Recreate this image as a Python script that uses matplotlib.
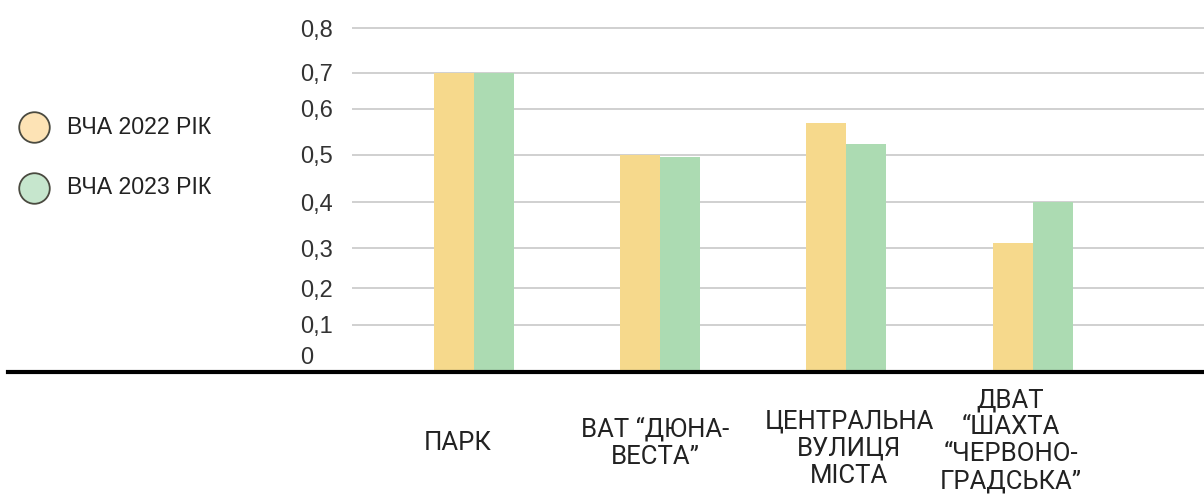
import numpy as np
import matplotlib
matplotlib.use("Agg")
import matplotlib.pyplot as plt
import matplotlib.transforms as mtransforms
from matplotlib.lines import Line2D

# Дані
categories = [
    "ПАРК",
    "ВАТ “ДЮНА-\nВЕСТА”",
    "ЦЕНТРАЛЬНА\nВУЛИЦЯ\nМІСТА",
    "ДВАТ\n“ШАХТА\n“ЧЕРВОНО-\nГРАДСЬКА”",
]
vcha_2022 = [0.70, 0.50, 0.57, 0.31]
vcha_2023 = [0.70, 0.495, 0.525, 0.40]
series_names = ["ВЧА 2022 РІК", "ВЧА 2023 РІК"]
y_ticks = [0, 0.1, 0.2, 0.3, 0.4, 0.5, 0.6, 0.7, 0.8]
y_tick_labels = ["0", "0,1", "0,2", "0,3", "0,4", "0,5", "0,6", "0,7", "0,8"]

# нерівномірна шкала осі Y як в оригіналі (значення -> пікселі від нуля)
scale_vals = np.array([0, 0.1, 0.2, 0.3, 0.4, 0.5, 0.6, 0.7, 0.8, 0.9])
scale_px = np.array([0, 47, 84, 124, 170, 217, 263, 299, 344, 389], dtype=float)

def fwd(v):
    return np.interp(v, scale_vals, scale_px)

def inv(u):
    return np.interp(u, scale_px, scale_vals)

bar_yellow = "#f6d98c"
bar_green = "#acdbb2"
dot_yellow = "#fde3b5"
dot_green = "#c6e6cd"

W, H = 1204, 495
fig = plt.figure(figsize=(W / 100, H / 100), dpi=100)
ax = fig.add_axes([352 / W, (H - 372) / H, (W - 352) / W, (372 - 15) / H])
ax.set_yscale("function", functions=(fwd, inv))

x = np.arange(len(categories))
width = 0.215
ax.bar(x - width / 2, vcha_2022, width, color=bar_yellow, zorder=3)
ax.bar(x + width / 2, vcha_2023, width, color=bar_green, zorder=3)

ax.set_xlim(-0.655, 3.92)
ax.set_ylim(0, inv(357))

ax.set_yticks(y_ticks)
ax.set_yticklabels(y_tick_labels, fontsize=17, color="#333333",
                   family="Liberation Sans", ha="left")
ax.tick_params(axis="y", length=0, pad=37.5)
ax.grid(axis="y", color="#c8c8c8", linewidth=1.2, zorder=0)

ax.set_xticks(x)
ax.set_xticklabels(categories, fontsize=18.5, color="#222222", family="Roboto",
                   linespacing=1.15, va="center")
ax.tick_params(axis="x", length=0, pad=51)

for s in ax.spines.values():
    s.set_visible(False)

# товста лінія нуля на всю ширину
ax.axhline(0, xmin=(8 - 352) / (W - 352), xmax=1, color="black",
           linewidth=3, clip_on=False, zorder=4)

# "0" трохи вище лінії
zero_lbl = ax.yaxis.get_major_ticks()[0].label1
zero_lbl.set_transform(zero_lbl.get_transform() +
                       mtransforms.ScaledTranslation(0, 0.17, fig.dpi_scale_trans))

# невеликі зсуви підписів по X/Y (пікселі)
label_dx = [-16, -5, 3, -22]
label_dy = [0, 0, -6, 2]
for tick, dx, dy in zip(ax.xaxis.get_major_ticks(), label_dx, label_dy):
    lbl = tick.label1
    lbl.set_transform(lbl.get_transform() +
                      mtransforms.ScaledTranslation(dx / 100, dy / 100, fig.dpi_scale_trans))

# легенда
for name, fc, ypx in [(series_names[0], dot_yellow, 127), (series_names[1], dot_green, 188)]:
    fig.add_artist(Line2D([34 / W], [(H - ypx) / H], transform=fig.transFigure,
                          marker="o", markersize=22, markerfacecolor=fc,
                          markeredgecolor="#4a4a40", markeredgewidth=1.3,
                          linestyle="none"))
    fig.text(67 / W, (H - ypx) / H, name, fontsize=16.7, family="Liberation Sans",
             color="#222222", va="center", ha="left")

fig.savefig("out.png", dpi=100)
